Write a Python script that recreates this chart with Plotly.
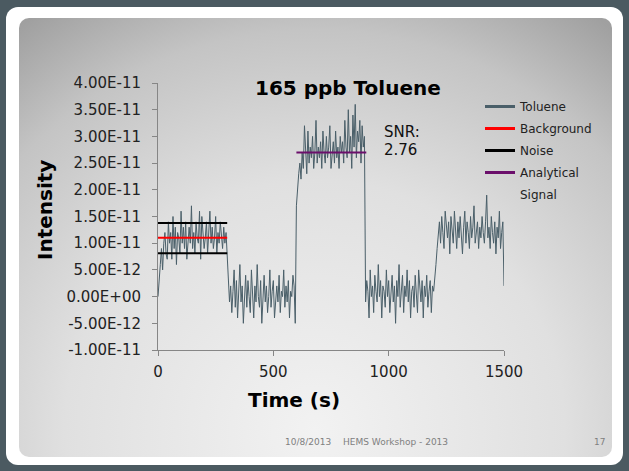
import base64
import plotly.graph_objects as go

# ---------------- data (intensity in units of 1e-12, sampled every 5 s) ----------------
seg_background = [0, 4, 6, 9, 5, 10, 12, 8, 7, 14,
                  10, 12, 7, 15, 9, 13, 6, 12, 11, 8,
                  16, 10, 13, 9, 14, 7, 11, 13, 10, 17,
                  9, 12, 8, 14, 11, 10, 16, 7, 15, 12,
                  9, 11, 14, 8, 12, 16, 10, 13, 9, 11,
                  15, 8, 12, 10, 14, 11, 9, 13, 10, 12]
seg_off_1 = [8, 3, -1, 2, -3, 1, 5, -2, 3, -4,
             0, 6, -1, 2, -5, 1, 4, -2, 3, 0,
             -3, 5, 1, -4, 2, -1, 6, 0, -2, 3,
             -5, 1, 4, -1, 2, -3, 0, 5, -2, 1,
             3, -4, 0, 2, -1, 4, -3, 1, 0, 5,
             -2, 2, -1, 3, -4, 1, 0, 4, 2, -5]
seg_signal = [17, 21, 23, 25, 22, 27, 24, 32, 26, 23,
              31, 25, 28, 26, 30, 24, 27, 33, 25, 28,
              26, 29, 24, 31, 27, 25, 30, 26, 28, 32,
              24, 27, 29, 25, 31, 26, 28, 24, 30, 27,
              29, 25, 33, 28, 26, 35, 27, 30, 24, 34,
              28, 36, 26, 31, 29, 33, 25, 32, 28, 30]
seg_off_2 = [-1, 3, 1, -4, 5, 0, 2, -3, 4, 1,
             -1, 6, 0, 3, -4, 2, 1, -2, 5, 0,
             3, -3, 1, 4, -1, 2, -5, 3, 0, 6,
             -2, 1, 4, -3, 2, 0, 5, -1, 3, -4,
             1, 2, -2, 4, 0, -3, 5, 1, -1, 3,
             -4, 2, 0, 4, -2, 1, 3, -3, 2, 1]
seg_mid = [3, 6, 9, 11, 14, 10, 15, 12, 9, 16,
           13, 11, 14, 8, 15, 12, 10, 16, 13, 9,
           14, 11, 15, 12, 8, 13, 16, 10, 14, 12,
           9, 15, 11, 13, 17, 10, 12, 14, 9, 13,
           11, 15, 12, 10, 14, 19, 11, 13, 9, 15,
           12, 10, 14, 8, 13, 11, 16, 9, 12, 14,
           2]
sample_step_s = 5

background_level = 11e-12
noise_upper = 13.8e-12
noise_lower = 8.1e-12
analytical_level = 27e-12
background_window = [0, 300]
analytical_window = [600, 903]

y_tickvals = [-1e-11, -5e-12, 0, 5e-12, 1e-11, 1.5e-11, 2e-11, 2.5e-11, 3e-11, 3.5e-11, 4e-11]
y_ticktext = ["-1.00E-11", "-5.00E-12", "0.00E+00", "5.00E-12", "1.00E-11", "1.50E-11",
              "2.00E-11", "2.50E-11", "3.00E-11", "3.50E-11", "4.00E-11"]
x_tickvals = [0, 500, 1000, 1500]

intensity = [v * 1e-12 for v in seg_background + seg_off_1 + seg_signal + seg_off_2 + seg_mid]
time_s = [i * sample_step_s for i in range(len(intensity))]

# ---------------- geometry helpers ----------------
W, H = 629, 471
ML, MR, MT, MB = 158, 125, 83, 121
PW, PH = W - ML - MR, H - MT - MB


def px(x):
    return (x - ML) / PW


def py(y):
    return (H - MB - y) / PH


FONT = "DejaVu Sans"
TOL = "#4a5f69"

fig = go.Figure()
fig.add_trace(go.Scatter(x=time_s, y=intensity, mode="lines",
                         line=dict(color=TOL, width=1), showlegend=False, hoverinfo="skip"))
fig.add_trace(go.Scatter(x=background_window, y=[background_level] * 2, mode="lines",
                         line=dict(color="#ff0000", width=2), showlegend=False))
fig.add_trace(go.Scatter(x=background_window + [None] + background_window,
                         y=[noise_upper] * 2 + [None] + [noise_lower] * 2, mode="lines",
                         line=dict(color="#000000", width=2), showlegend=False))
fig.add_trace(go.Scatter(x=analytical_window, y=[analytical_level] * 2, mode="lines",
                         line=dict(color="#6b0f6b", width=2), showlegend=False))

# legend entries
for name, color in [("Toluene", TOL), ("Background", "#ff0000"), ("Noise", "#000000"),
                    ("Analytical", "#6b0f6b"), ("Signal", "rgba(0,0,0,0)")]:
    fig.add_trace(go.Scatter(x=[None], y=[None], mode="lines", name=name, legendgroup=name,
                             line=dict(color=color, width=3)))

svg = f'''<svg xmlns="http://www.w3.org/2000/svg" width="{W}" height="{H}" viewBox="0 0 {W} {H}" preserveAspectRatio="none">
<defs><radialGradient id="g" gradientUnits="userSpaceOnUse" cx="315" cy="430" r="500">
<stop offset="0" stop-color="#f2f2f2"/><stop offset="0.5" stop-color="#e0e0e0"/>
<stop offset="0.8" stop-color="#c4c4c4"/><stop offset="1" stop-color="#a0a0a0"/></radialGradient></defs>
<rect x="0" y="0" width="{W}" height="{H}" fill="#4b5a61"/>
<rect x="6" y="7" width="617" height="458" rx="12" fill="#ffffff"/>
<rect x="19" y="18" width="593" height="439" rx="10" fill="url(#g)"/>
</svg>'''
src = "data:image/svg+xml;base64," + base64.b64encode(svg.encode()).decode()

annotations = [
    dict(text="<b>165 ppb Toluene</b>", x=px(348), y=py(88), font=dict(size=20, color="#000")),
    dict(text="<b>Time (s)</b>", x=px(294), y=py(400), font=dict(size=20, color="#000")),
    dict(text="<b>Intensity</b>", x=px(45), y=py(210), textangle=-90, font=dict(size=20, color="#000")),
    dict(text="SNR:", x=px(382), y=py(132), xanchor="left", font=dict(size=15, color="#111")),
    dict(text="2.76", x=px(382), y=py(150), xanchor="left", font=dict(size=15, color="#111")),
    dict(text="10/8/2013", x=px(308), y=py(442), font=dict(size=9, color="#808080")),
    dict(text="HEMS Workshop - 2013", x=px(395), y=py(442), font=dict(size=9, color="#808080")),
    dict(text="17", x=px(599), y=py(442), font=dict(size=9, color="#808080")),
]
for a in annotations:
    a.update(xref="paper", yref="paper", showarrow=False)
    a.setdefault("xanchor", "center")
    a["yanchor"] = "middle"
    a["font"]["family"] = FONT

fig.update_layout(
    width=W, height=H,
    margin=dict(l=ML, r=MR, t=MT, b=MB, pad=0),
    paper_bgcolor="#4b5a61", plot_bgcolor="rgba(0,0,0,0)",
    font=dict(family=FONT, color="#222"),
    images=[dict(source=src, xref="paper", yref="paper", x=px(0), y=py(0),
                 sizex=W / PW, sizey=H / PH, xanchor="left", yanchor="top",
                 sizing="stretch", layer="below")],
    annotations=annotations,
    showlegend=True,
    legend=dict(x=px(480), y=py(92), xanchor="left", yanchor="top",
                bgcolor="rgba(0,0,0,0)", font=dict(size=12, family=FONT, color="#222"),
                traceorder="grouped", tracegroupgap=3, itemwidth=30),
    xaxis=dict(range=[0, 1500], tickvals=x_tickvals, ticks="outside", ticklen=5,
               tickcolor="#868686", showline=True, linecolor="#868686", linewidth=1,
               showgrid=False, zeroline=False, tickfont=dict(size=15, color="#222"),
               ticklabelstandoff=3, fixedrange=True),
    yaxis=dict(range=[-1e-11, 4e-11], tickvals=y_tickvals, ticktext=y_ticktext, ticks="outside",
               ticklen=5, tickcolor="#868686", showline=True, linecolor="#868686", linewidth=1,
               showgrid=False, zeroline=False, tickfont=dict(size=15, color="#222"),
               ticklabelstandoff=8, fixedrange=True),
)

fig.write_html("out.html", config={"displayModeBar": False},
               post_script="document.body.style.margin='0';")
